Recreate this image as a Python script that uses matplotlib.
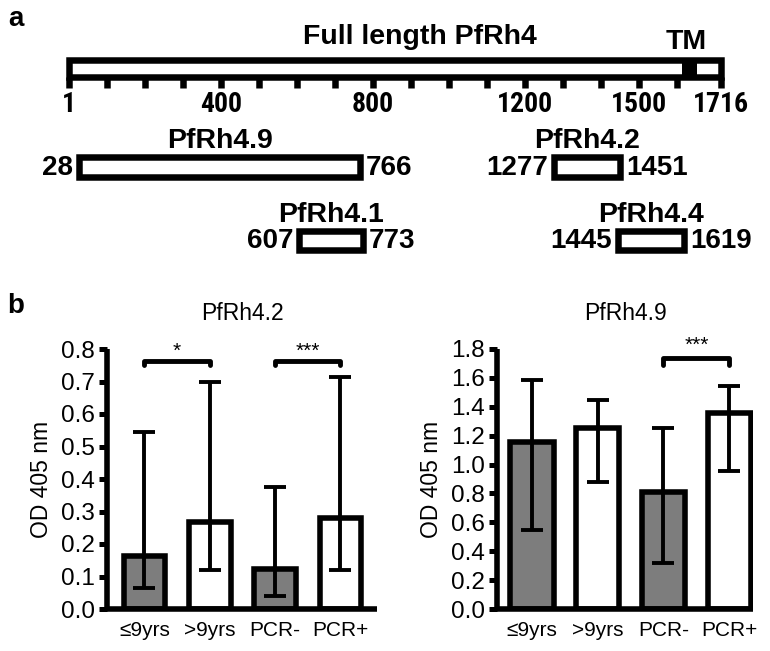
import matplotlib
matplotlib.use("Agg")
import matplotlib.pyplot as plt
from matplotlib.patches import Rectangle
import numpy as np

# ---------------- data ----------------
protein_length = 1716
tm_start, tm_end = 1613, 1652
scale_ticks = [1, 100, 200, 300, 400, 500, 600, 700, 800, 900, 1000,
               1100, 1200, 1300, 1400, 1500, 1600, 1716]
scale_labels = [1, 400, 800, 1200, 1500, 1716]

frag_names = ["PfRh4.9", "PfRh4.2", "PfRh4.1", "PfRh4.4"]
frag_starts = [28, 1277, 607, 1445]
frag_ends = [766, 1451, 773, 1619]
frag_rows = [0, 0, 1, 1]

groups = ["≤9yrs", ">9yrs", "PCR-", "PCR+"]
rh42_median = [0.164, 0.268, 0.124, 0.279]
rh42_low = [0.065, 0.121, 0.041, 0.121]
rh42_high = [0.544, 0.697, 0.374, 0.714]
rh42_sig = [(0, 1, "*"), (2, 3, "***")]

rh49_median = [1.154, 1.253, 0.810, 1.357]
rh49_low = [0.545, 0.877, 0.318, 0.953]
rh49_high = [1.583, 1.449, 1.253, 1.546]
rh49_sig = [(2, 3, "***")]

bar_colors = ["#7d7d7d", "white", "#7d7d7d", "white"]

# ---------------- figure ----------------
W, H = 770, 651
fig = plt.figure(figsize=(W / 100, H / 100), dpi=100)
PX = 0.72  # points per pixel at 100 dpi

bold = ["Liberation Sans", "DejaVu Sans"]
narrow = ["Roboto Condensed", "Liberation Sans", "DejaVu Sans"]
sans = ["Liberation Sans", "DejaVu Sans"]

# ---------- panel a : schematic ----------
axa = fig.add_axes([0, 0.5, 1, 0.5])
top_h = H * 0.5
px_per_unit = 0.3802
u_left = 1 - 69 / px_per_unit
u_right = 1 + (W - 69) / px_per_unit
axa.set_xlim(u_left, u_right)
axa.set_ylim(top_h, 0)
axa.axis("off")

lw_box = 6.5 * PX
bar_y0, bar_y1 = 60.25, 76.75
axa.add_patch(Rectangle((1, bar_y0), protein_length - 1, bar_y1 - bar_y0,
                        fill=False, lw=lw_box, ec="black", joinstyle="miter"))
axa.add_patch(Rectangle((tm_start, bar_y0), tm_end - tm_start, bar_y1 - bar_y0,
                        fc="black", ec="black", lw=0))
axa.vlines(scale_ticks, bar_y1, 88, colors="black", lw=lw_box, capstyle="butt")
for v in scale_labels:
    axa.text(v, 104, str(v), ha="center", va="center", fontsize=20,
             fontweight="bold", family=narrow)

axa.text(420 / W, 1 - 37 / top_h, "Full length PfRh4", transform=axa.transAxes,
         ha="center", va="center", fontsize=20.5, fontweight="bold", family=bold)
axa.text(686 / W, 1 - 42 / top_h, "TM", transform=axa.transAxes,
         ha="center", va="center", fontsize=20.5, fontweight="bold", family=bold)
axa.text(16 / W, 1 - 19 / top_h, "a", transform=axa.transAxes,
         ha="center", va="center", fontsize=20, fontweight="bold", family=sans)

row_box = [(157.25, 176.75), (231.25, 249.75)]
row_title = [141, 215]
for name, s, e, r in zip(frag_names, frag_starts, frag_ends, frag_rows):
    y0, y1 = row_box[r]
    axa.add_patch(Rectangle((s, y0), e - s, y1 - y0, fill=False, lw=lw_box,
                            ec="black", joinstyle="miter"))
    gap = 6 / px_per_unit
    yc = (y0 + y1) / 2 + 1
    axa.text(s - gap, yc, str(s), ha="right", va="center", fontsize=20,
             fontweight="bold", family=bold)
    axa.text(e + gap, yc, str(e), ha="left", va="center", fontsize=20,
             fontweight="bold", family=bold)
    axa.text((s + e) / 2, row_title[r], name, ha="center", va="center",
             fontsize=20.5, fontweight="bold", family=bold)

fig.text(16 / W, 1 - 306 / H, "b", ha="center", va="center", fontsize=20,
         fontweight="bold", family=sans)


# ---------- panel b : bar charts ----------
def bar_panel(rect, med, low, high, sig, ymax, ystep, xlim, width, title,
              sig_y, sig_drop, star_y):
    ax = fig.add_axes(rect)
    x = np.arange(len(groups))
    med = np.array(med)
    yerr = [med - np.array(low), np.array(high) - med]
    ax.bar(x, med, width=width, color=bar_colors, edgecolor="black",
           linewidth=4.0, zorder=2)
    ax.errorbar(x, med, yerr=yerr, fmt="none", ecolor="black",
                elinewidth=2.8, capsize=8, capthick=2.8, zorder=3)
    ax.set_xlim(*xlim)
    ax.set_ylim(0, ymax)
    ticks = np.arange(0, ymax + ystep / 2, ystep)
    ax.set_yticks(ticks)
    ax.set_yticklabels([f"{t:.1f}" for t in ticks], family=sans, fontsize=17.5)
    ax.set_xticks(x)
    ax.set_xticklabels(groups, family=sans, fontsize=15)
    ax.tick_params(axis="x", length=0, pad=9)
    ax.tick_params(axis="y", length=5.5, width=3.6, pad=3)
    for s in ("top", "right"):
        ax.spines[s].set_visible(False)
    for s in ("left", "bottom"):
        ax.spines[s].set_linewidth(4.0)
        ax.spines[s].set_capstyle("butt")
    ax.set_ylabel("OD 405 nm", family=sans, fontsize=16.5, labelpad=6)
    ax.set_title(title, family=sans, fontsize=16.5, pad=21)
    for i, j, lab in sig:
        ax.plot([x[i], x[i], x[j], x[j]],
                [sig_y - sig_drop, sig_y, sig_y, sig_y - sig_drop],
                color="black", lw=3.5, clip_on=False, solid_capstyle="round",
                solid_joinstyle="round")
        ax.text((x[i] + x[j]) / 2, star_y, lab, ha="center", va="center",
                fontsize=15, family=sans, clip_on=False)
    return ax


y_bot = (H - 609) / H
y_h = 260 / H
bar_panel([107 / W, y_bot, 270 / W, y_h], rh42_median, rh42_low, rh42_high,
          rh42_sig, 0.8, 0.1, (-0.574, 3.56), 0.64, "PfRh4.2",
          0.762, 0.012, 0.792)
bar_panel([497 / W, y_bot, 256 / W, y_h], rh49_median, rh49_low, rh49_high,
          rh49_sig, 1.8, 0.2, (-0.53, 3.36), 0.66, "PfRh4.9",
          1.738, 0.05, 1.828)

fig.savefig("out.png", dpi=100)
